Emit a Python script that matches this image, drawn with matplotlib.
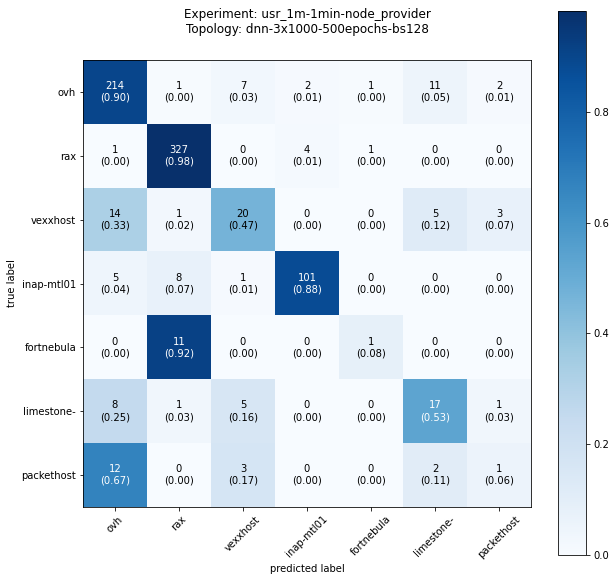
import numpy as np
import matplotlib
matplotlib.use("Agg")
import matplotlib.pyplot as plt

EXPERIMENT = "usr_1m-1min-node_provider"
TOPOLOGY = "dnn-3x1000-500epochs-bs128"

classes = ['ovh', 'rax', 'vexxhost', 'inap-mtl01', 'fortnebula', 'limestone-', 'packethost']

# rows = true label, cols = predicted label
row_ovh = [214, 1, 7, 2, 1, 11, 2]
row_rax = [1, 327, 0, 4, 1, 0, 0]
row_vexxhost = [14, 1, 20, 0, 0, 5, 3]
row_inap = [5, 8, 1, 101, 0, 0, 0]
row_fortnebula = [0, 11, 0, 0, 1, 0, 0]
row_limestone = [8, 1, 5, 0, 0, 17, 1]
row_packethost = [12, 0, 3, 0, 0, 2, 1]

cm = np.array([row_ovh, row_rax, row_vexxhost, row_inap,
               row_fortnebula, row_limestone, row_packethost])
cm_norm = cm / cm.sum(axis=1, keepdims=True)

W, H = 614, 581
fig = plt.figure(figsize=(W / 72, H / 72), dpi=72)
ax = fig.add_axes([83 / W, 1 - 507 / H, 448 / W, 447 / H])
cax = fig.add_axes([558 / W, 1 - 555 / H, 28 / W, 544 / H])

im = ax.imshow(cm_norm, interpolation='nearest', cmap=plt.cm.Blues, aspect='auto')
cb = fig.colorbar(im, cax=cax)
cb.set_ticks([0.0, 0.2, 0.4, 0.6, 0.8])

ax.set_xticks(np.arange(len(classes)))
ax.set_yticks(np.arange(len(classes)))
ax.set_xticklabels(classes, rotation=45)
ax.set_yticklabels(classes)

thresh = cm_norm.max() / 2.
for i in range(cm.shape[0]):
    for j in range(cm.shape[1]):
        ax.text(j, i, "{}\n({:.2f})".format(cm[i, j], cm_norm[i, j]),
                ha="center", va="center", fontsize=10,
                color="white" if cm_norm[i, j] > thresh else "black")

ax.set_title("Experiment: {}\nTopology: {}".format(EXPERIMENT, TOPOLOGY), fontsize=12, pad=27)
ax.set_ylabel('true label')
ax.set_xlabel('predicted label')

fig.savefig("out.png", dpi=72)
